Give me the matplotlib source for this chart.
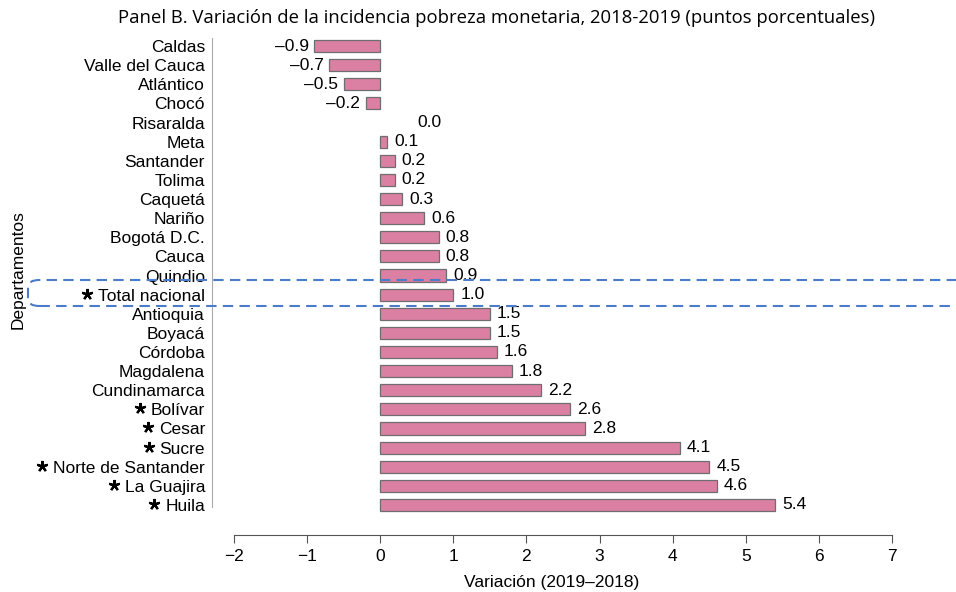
import matplotlib
matplotlib.use("Agg")
import matplotlib.pyplot as plt
from matplotlib.patches import FancyBboxPatch
from matplotlib.lines import Line2D

departamentos = ["Caldas", "Valle del Cauca", "Atlántico", "Chocó", "Risaralda", "Meta",
                 "Santander", "Tolima", "Caquetá", "Nariño", "Bogotá D.C.", "Cauca",
                 "Quindio", "Total nacional", "Antioquia", "Boyacá", "Córdoba", "Magdalena",
                 "Cundinamarca", "Bolívar", "Cesar", "Sucre", "Norte de Santander",
                 "La Guajira", "Huila"]
variacion = [-0.9, -0.7, -0.5, -0.2, 0.0, 0.1, 0.2, 0.2, 0.3, 0.6, 0.8, 0.8, 0.9, 1.0,
             1.5, 1.5, 1.6, 1.8, 2.2, 2.6, 2.8, 4.1, 4.5, 4.6, 5.4]
marcados = ["Total nacional", "Bolívar", "Cesar", "Sucre", "Norte de Santander",
            "La Guajira", "Huila"]
xticks = [-2, -1, 0, 1, 2, 3, 4, 5, 6, 7]

FONT = ["Liberation Sans", "DejaVu Sans"]
plt.rcParams["font.family"] = FONT
FS = 12.5

fig = plt.figure(figsize=(9.56, 5.92), dpi=100)
ax = fig.add_axes([212/956, 1-535/592, (892-212)/956, (535-38)/592])

n = len(departamentos)
ypos = [n - 1 - i for i in range(n)]
ax.barh(ypos, variacion, height=0.63, color="#DB7FA3", edgecolor="#6E6E6E",
        linewidth=[0 if v == 0 else 0.9 for v in variacion])

for y, v in zip(ypos, variacion):
    txt = f"{abs(v):.1f}"
    if v < 0:
        ax.annotate("\u2013" + txt, (v, y), xytext=(-4, 0), textcoords="offset points",
                    ha="right", va="center", fontsize=FS)
    elif v == 0:
        ax.annotate(txt, (v, y), xytext=(27, 0), textcoords="offset points",
                    ha="left", va="center", fontsize=FS)
    else:
        ax.annotate(txt, (v, y), xytext=(5, 0), textcoords="offset points",
                    ha="left", va="center", fontsize=FS)

ax.set_xlim(-2.3, 7.0)
ax.set_ylim(-1.57, n - 1 + 0.42)
ax.set_yticks(ypos)
ax.set_yticklabels(departamentos, fontsize=FS)
ax.tick_params(axis="y", length=0, pad=5)
ax.set_xticks(xticks)
ax.set_xticklabels([("\u2212" + str(abs(t))) if t < 0 else str(t) for t in xticks], fontsize=FS)
ax.tick_params(axis="x", length=6, color="#555555", pad=4)

for s in ["top", "right"]:
    ax.spines[s].set_visible(False)
ax.spines["left"].set_bounds(-0.1, n - 1 + 0.42)
ax.spines["left"].set_color("#AAAAAA")
ax.spines["bottom"].set_bounds(-2, 7)
ax.spines["bottom"].set_color("#555555")

ax.set_xlabel("Variación (2019\u20132018)", fontsize=FS, labelpad=8)
fig.text(18/956, 1-270/592, "Departamentos", rotation=90, ha="center", va="center", fontsize=FS)
fig.text(496/956, 1-18/592, "Panel B. Variación de la incidencia pobreza monetaria, 2018-2019 (puntos porcentuales)",
         ha="center", va="center", fontsize=13.3, family=["Open Sans", "DejaVu Sans"])

# five-armed asterisks before marked labels
fig.canvas.draw()
renderer = fig.canvas.get_renderer()
W, H = fig.bbox.width, fig.bbox.height
for lab, y in zip(ax.get_yticklabels(), ypos):
    if lab.get_text() in marcados:
        bb = lab.get_window_extent(renderer)
        xc = bb.x0 - 11
        yc = ax.transData.transform((0, y))[1] + 1
        fig.add_artist(Line2D([xc / W], [yc / H], transform=fig.transFigure,
                              marker=(5, 2, 0), markersize=8, markeredgewidth=1.6,
                              color="black", linestyle="none"))

box = FancyBboxPatch((28/956, 1-306/592), 1.0, 26/592,
                     boxstyle="round,pad=0,rounding_size=0.012", transform=fig.transFigure,
                     fill=False, edgecolor="#4A7CC9", linestyle=(0, (5, 3)), linewidth=1.5,
                     clip_on=False)
fig.add_artist(box)

fig.savefig("out.png", dpi=100)
